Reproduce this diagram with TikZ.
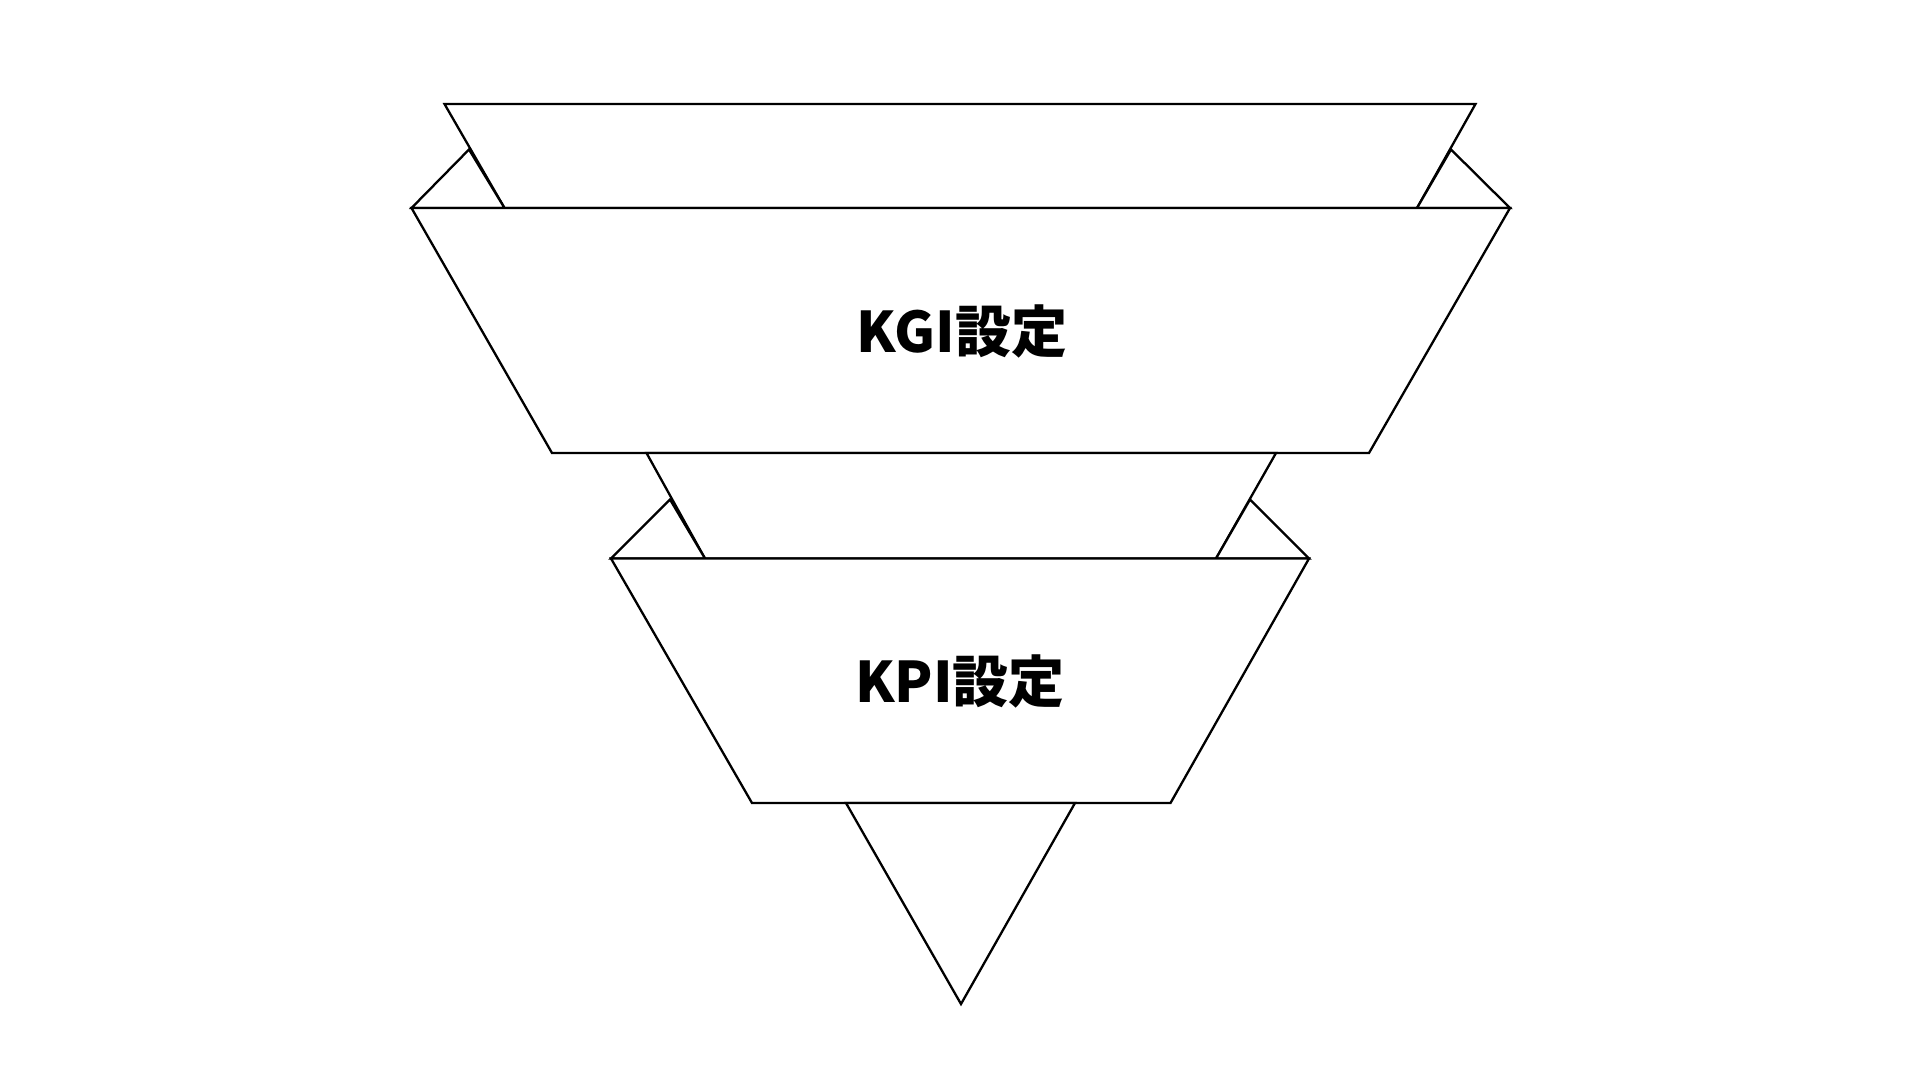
\documentclass[tikz,border=0pt]{standalone}
\usepackage{fontspec}
\newfontfamily\cjk{Noto Sans CJK JP}
\tikzset{
  shape line/.style={draw=black, line width=2.3pt, line join=miter, fill=white},
  label text/.style={font=\cjk\bfseries\fontsize{56}{64}\selectfont, text=black, inner sep=0pt}
}
\begin{document}
\begin{tikzpicture}[x=1pt,y=-1pt]
\useasboundingbox (0,0) rectangle (1920,1080);
% top funnel section
\draw[shape line] (444.5,104) -- (1475.5,104) -- (1417,208) -- (504.5,208) -- cycle;
\draw[shape line] (411.5,208) -- (469,149.5) -- (504.5,208) -- cycle;
\draw[shape line] (1510,208) -- (1451,149.5) -- (1417,208) -- cycle;
\draw[shape line] (411.5,208) -- (1510,208) -- (1369,453) -- (552,453) -- cycle;
% middle funnel section
\draw[shape line] (646.5,453) -- (1276,453) -- (1216,558.5) -- (705,558.5) -- cycle;
\draw[shape line] (611,558.5) -- (670,499.5) -- (705,558.5) -- cycle;
\draw[shape line] (1309,558.5) -- (1250,499.5) -- (1216,558.5) -- cycle;
\draw[shape line] (611,558.5) -- (1309,558.5) -- (1170.5,803) -- (752,803) -- cycle;
% bottom tip
\draw[shape line] (846,803) -- (1075,803) -- (961,1004) -- cycle;
% labels
\node[label text] (kgi) at (962,331) {KGI設定};
\node[label text] (kpi) at (960,681) {KPI設定};
\end{tikzpicture}
\end{document}
